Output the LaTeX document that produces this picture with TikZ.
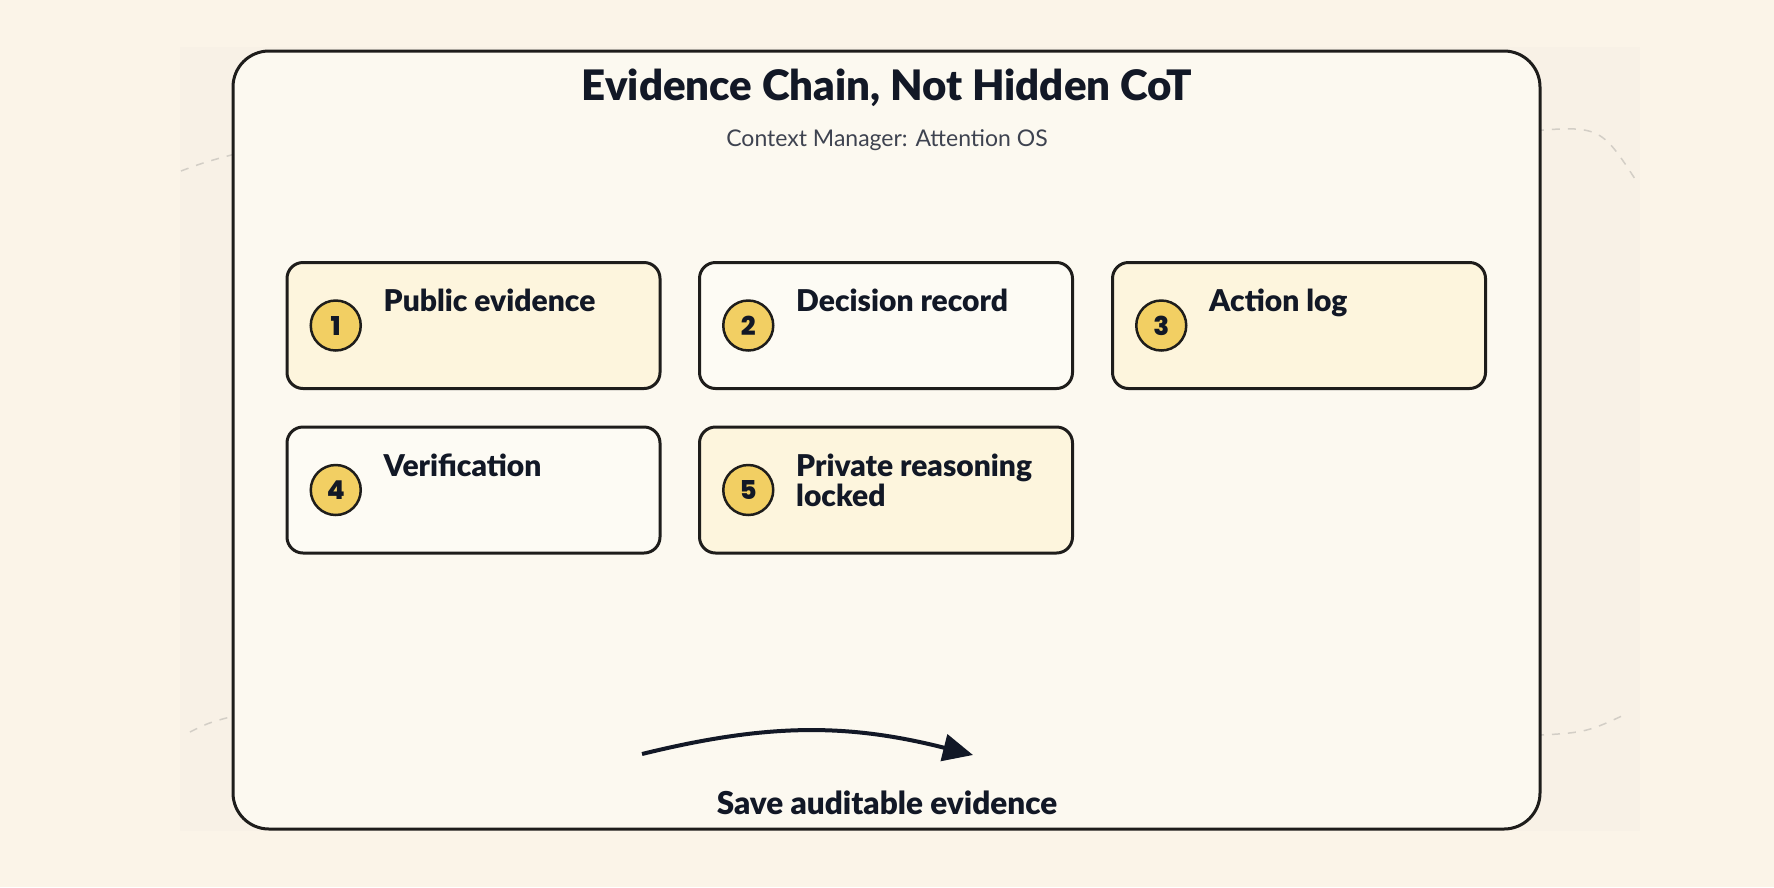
\documentclass[tikz,border=0pt]{standalone}
\usepackage{fontspec}
\setmainfont{Lato}
\newfontfamily\heavyfont{Lato Black}
\newfontfamily\numfont{Poppins ExtraBold}
\usetikzlibrary{arrows.meta,positioning}

\definecolor{pagebg}{HTML}{FBF4E8}
\definecolor{panelbg}{HTML}{F8F1E6}
\definecolor{framebg}{HTML}{FCF9F0}
\definecolor{inkdark}{HTML}{1E1D1B}
\definecolor{navy}{HTML}{121826}
\definecolor{subgrey}{HTML}{3E4350}
\definecolor{cardyellow}{HTML}{FDF5DD}
\definecolor{cardwhite}{HTML}{FDFBF4}
\definecolor{badgegold}{HTML}{F2CF63}
\definecolor{dashgrey}{HTML}{D3CEC6}

\tikzset{
  card/.style={draw=inkdark, line width=3pt, rounded corners=16pt,
    minimum width=373pt, minimum height=126pt, inner sep=0pt},
  badge/.style={circle, draw=inkdark, line width=2.5pt, fill=badgegold,
    minimum size=50pt, inner sep=0pt, text=navy,
    font=\numfont\fontsize{26}{26}\selectfont},
  cardtext/.style={anchor=north west, inner sep=0pt, align=left, text=navy,
    font=\heavyfont\fontsize{30}{30}\selectfont},
  deco/.style={dashgrey, line width=1.5pt, dash pattern=on 8pt off 8pt}
}

\begin{document}
\begin{tikzpicture}[x=1pt,y=-1pt]
  \fill[pagebg] (0,0) rectangle (1774,887);
  \useasboundingbox (0,0) rectangle (1774,887);
  \fill[panelbg] (180,47) rectangle (1640,831);
  % dashed arcs behind the frame
  \draw[deco] (181,171) .. controls (205,162) .. (250,150);
  \draw[deco] (1520,132) .. controls (1600,125) .. (1637,182);
  \draw[deco] (190,732) .. controls (210,722) .. (250,712);
  \draw[deco] (1520,736) .. controls (1585,733) .. (1624,715);
  % frame
  \draw[inkdark, fill=framebg, line width=3pt, rounded corners=36pt] (233,51) rectangle (1540,829);
  \node[text=navy, font=\heavyfont\fontsize{42}{42}\selectfont] (title) at (887,88) {Evidence Chain, Not Hidden CoT};
  \node[text=subgrey, font=\fontsize{23}{23}\selectfont] (subtitle) at (887,140) {Context Manager: Attention OS};
  % cards
  \foreach \n/\cx/\cy/\tone/\txt in {
      1/473.5/325.5/cardyellow/{Public evidence},
      2/886/325.5/cardwhite/{Decision record},
      3/1299/325.5/cardyellow/{Action log},
      4/473.5/490/cardwhite/{Verification},
      5/886/490/cardyellow/{Private reasoning\\locked}} {
    \node[card, fill=\tone] (card\n) at (\cx,\cy) {};
    \node[badge, right=24pt of card\n.west] (badge\n) {\n};
    \node[cardtext] (label\n) at ([shift={(98,28)}]card\n.north west) {\txt};
  }
  % flow arrow
  \coordinate (flowstart) at (642,754);
  \coordinate (flowend) at (973,755);
  \draw[navy, line width=4pt, -{Triangle[length=30pt,width=27pt]}] (flowstart) to[bend left=14] (flowend);
  \node[text=navy, font=\heavyfont\fontsize{31.5}{31.5}\selectfont] (flowlabel) at (887,803) {Save auditable evidence};
\end{tikzpicture}
\end{document}
